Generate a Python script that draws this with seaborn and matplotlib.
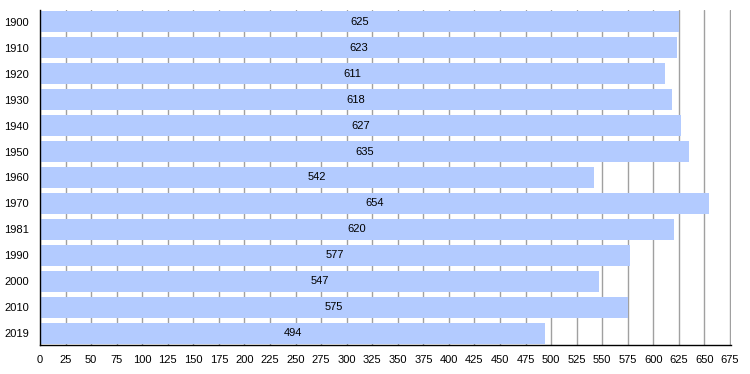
import matplotlib
matplotlib.use("Agg")
import matplotlib.pyplot as plt
import seaborn as sns
import pandas as pd

years = ["1900", "1910", "1920", "1930", "1940", "1950", "1960", "1970", "1981", "1990", "2000", "2010", "2019"]
population = [625, 623, 611, 618, 627, 635, 542, 654, 620, 577, 547, 575, 494]
xticks = list(range(0, 676, 25))

df = pd.DataFrame({"year": years, "pop": population})

sns.set_style("white")
plt.rcParams['font.family'] = ['Liberation Sans', 'DejaVu Sans']

fig = plt.figure(figsize=(7.5, 3.74), dpi=100)
ax = fig.add_axes([40/750, 1-345/374, 691/750, 335/374])

sns.barplot(data=df, x="pop", y="year", order=years, orient="h",
            color="#b3cbff", saturation=1, width=0.8, linewidth=0,
            edgecolor="none", ax=ax, zorder=2)

for i, v in enumerate(population):
    ax.text(v / 2, i, str(v), ha="center", va="center", fontsize=8, color="black", zorder=3)

ax.set_xlim(0, 676)
ax.set_ylim(12.45, -0.45)
ax.set_xticks(xticks)
ax.set_xticklabels([str(t) for t in xticks], fontsize=8)
ax.tick_params(axis="y", labelsize=8, length=0, pad=8, labelcolor="black")
ax.tick_params(axis="x", length=4, width=1, color="black", direction="out", pad=3, labelcolor="black")
ax.xaxis.grid(True, color="#a0a0a0", linewidth=1, zorder=0)
ax.set_axisbelow(True)
for s in ["top", "right"]:
    ax.spines[s].set_visible(False)
for s in ["left", "bottom"]:
    ax.spines[s].set_color("black")
    ax.spines[s].set_linewidth(1)
ax.set_xlabel("")
ax.set_ylabel("")

fig.savefig("out.png", dpi=100)
